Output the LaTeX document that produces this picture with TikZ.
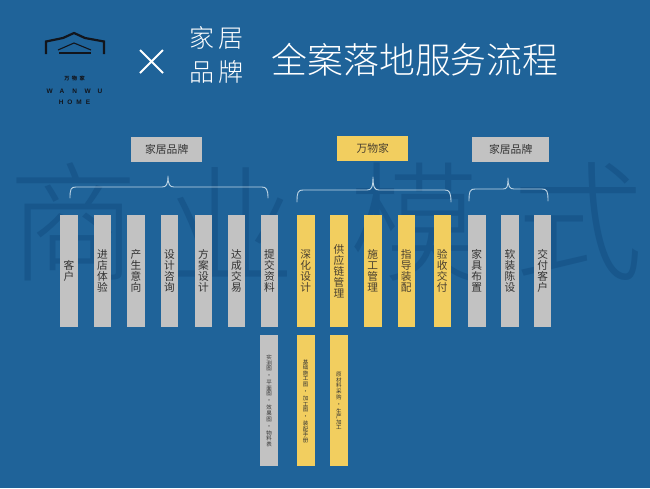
\documentclass[tikz,border=0pt]{standalone}
\usepackage{fontspec}
\newfontfamily\cjk{Noto Sans CJK SC}
\newfontfamily\cjklight{Noto Sans CJK SC Light}
\setsansfont{Liberation Sans}
\definecolor{bgblue}{HTML}{1F6399}
\definecolor{markblue}{HTML}{18578C}
\definecolor{barg}{HTML}{C2C2C2}
\definecolor{bary}{HTML}{F2CE5F}
\definecolor{ink}{HTML}{333333}
\definecolor{inky}{HTML}{4A4030}
\definecolor{brace}{HTML}{BFD6E6}
\definecolor{logoink}{HTML}{12151C}
\tikzset{
  x=1pt,y=-1pt,
  barbase/.style={anchor=north west,inner sep=0pt,minimum width=17.5pt,minimum height=112pt,align=center,font=\cjk\fontsize{10.7}{11}\selectfont,execute at begin node={\rule{0pt}{12pt}}},
  graybar/.style={barbase,fill=barg,text=ink},
  yellowbar/.style={barbase,fill=bary,text=inky},
  lowbase/.style={anchor=north west,inner sep=0pt,minimum width=18pt,minimum height=131pt},
  lowtext/.style={align=center,font=\cjk\fontsize{5.5}{5.6}\selectfont,text=ink,inner sep=0pt},
  headbox/.style={anchor=north west,inner sep=0pt,minimum height=25pt,font=\cjk\fontsize{10.8}{12}\selectfont,text=ink},
  bracket/.style={draw=brace,line width=0.9pt,line cap=round,line join=round},
  wm/.style={font=\cjklight\fontsize{130}{130}\selectfont,text=markblue,inner sep=0pt},
  logoline/.style={draw=logoink,line width=2.2pt},
  logotext/.style={font=\sffamily\bfseries\fontsize{6.5}{6.5}\selectfont,text=logoink,inner sep=0pt},
  titletext/.style={text=white,inner sep=0pt},
}
\begin{document}
\begin{tikzpicture}
\fill[bgblue] (0,0) rectangle (650,488);
\useasboundingbox (0,0) rectangle (650,488);
% watermark
\node[wm] (w1) at (74,222) {商};
\node[wm] (w2) at (230,222) {业};
\node[wm] (w3) at (414,222) {模};
\node[wm] (w4) at (578,222) {式};
% logo
\draw[logoline,line join=miter] (46,54) -- (46,41.5) -- (63,38) -- (74,33) -- (85,38) -- (104,41.5) -- (104,54);
\draw[logoline,line width=1.1pt] (58,50) -- (74,43) -- (91,50);
\draw[logoline,line width=2.2pt] (59,53) -- (91,53);
\node[logotext,font=\cjk\bfseries\fontsize{5.2}{5.2}\selectfont] (l1) at (74.5,78.5) {万\hspace{2.4pt}物\hspace{2.4pt}家};
\node[logotext] (l2) at (74.5,91) {W\hspace{7pt}A\hspace{8pt}N\hspace{7.5pt}W\hspace{7pt}U};
\node[logotext] (l3) at (74.5,102.5) {H\hspace{4pt}O\hspace{4pt}M\hspace{4pt}E};
% cross
\draw[white,line width=1.9pt] (140,50) -- (163,73) (163,50) -- (140,73);
% title
\node[titletext,font=\cjklight\fontsize{25}{25}\selectfont] (t1) at (216,38) {家\hspace{4pt}居};
\node[titletext,font=\cjklight\fontsize{25}{25}\selectfont] (t2) at (216,72) {品\hspace{4pt}牌};
\node[titletext,font=\cjklight\fontsize{35.8}{36}\selectfont] (t3) at (415,59.5) {全案落地服务流程};
% headers
\node[headbox,fill=barg,minimum width=71pt] (h1) at (131,137) {家居品牌};
\node[headbox,fill=bary,minimum width=71pt,text=inky] (h2) at (337,136) {万物家};
\node[headbox,fill=barg,minimum width=77pt] (h3) at (472,137) {家居品牌};
% brackets
\draw[bracket] (70,198) .. controls (70,189) and (71,187) .. (76,187) -- (162,187) .. controls (166,187) and (168,185) .. (168,176) .. controls (168,185) and (170,187) .. (174,187) -- (262,187) .. controls (266,187) and (268,189) .. (268,198);
\draw[bracket] (297,202) .. controls (297,192) and (298,190) .. (303,190) -- (367,190) .. controls (371,190) and (373,188) .. (373,177) .. controls (373,188) and (375,190) .. (379,190) -- (445,190) .. controls (449,190) and (451,192) .. (451,202);
\draw[bracket] (469,201) .. controls (469,191) and (470,189) .. (475,189) -- (503,189) .. controls (507,189) and (508,187) .. (508,178) .. controls (508,187) and (510,189) .. (514,189) -- (542,189) .. controls (547,189) and (548,191) .. (548,201);
% upper bars
\node[graybar] (b1) at (60,215) {客\\户};
\node[graybar] (b2) at (93.5,215) {进\\店\\体\\验};
\node[graybar] (b3) at (127,215) {产\\生\\意\\向};
\node[graybar] (b4) at (160.5,215) {设\\计\\咨\\询};
\node[graybar] (b5) at (194.5,215) {方\\案\\设\\计};
\node[graybar] (b6) at (227.5,215) {达\\成\\交\\易};
\node[graybar] (b7) at (260.5,215) {提\\交\\资\\料};
\node[yellowbar] (b8) at (296.8,215) {深\\化\\设\\计};
\node[yellowbar] (b9) at (330,215) {供\\应\\链\\管\\理};
\node[yellowbar] (b10) at (363.8,215) {施\\工\\管\\理};
\node[yellowbar] (b11) at (397.3,215) {指\\导\\装\\配};
\node[yellowbar] (b12) at (433.3,215) {验\\收\\交\\付};
\node[graybar] (b13) at (467.8,215) {家\\具\\布\\置};
\node[graybar] (b14) at (501,215) {软\\装\\陈\\设};
\node[graybar] (b15) at (533.7,215) {交\\付\\客\\户};
% lower bars
\node[lowbase,fill=barg] (c1) at (260,335) {};
\node[lowbase,fill=bary] (c2) at (296.3,335) {};
\node[lowbase,fill=bary] (c3) at (329.7,335) {};
\node[lowtext] (d1) at (c1.center) {实\\测\\图\\[1.4pt]·\\[1.4pt]平\\面\\图\\[1.4pt]·\\[1.4pt]效\\果\\图\\[1.4pt]·\\[1.4pt]物\\料\\表};
\node[lowtext] (d2) at ([yshift=-0.5pt]c2.center) {基\\础\\施\\工\\图\\[1.4pt]·\\[1.4pt]加\\工\\图\\[1.4pt]·\\[1.4pt]装\\配\\手\\册};
\node[lowtext] (d3) at ([yshift=-0.5pt]c3.center) {原\\材\\料\\采\\购\\[1.4pt]·\\[1.4pt]生\\产\\加\\工};
\end{tikzpicture}
\end{document}
